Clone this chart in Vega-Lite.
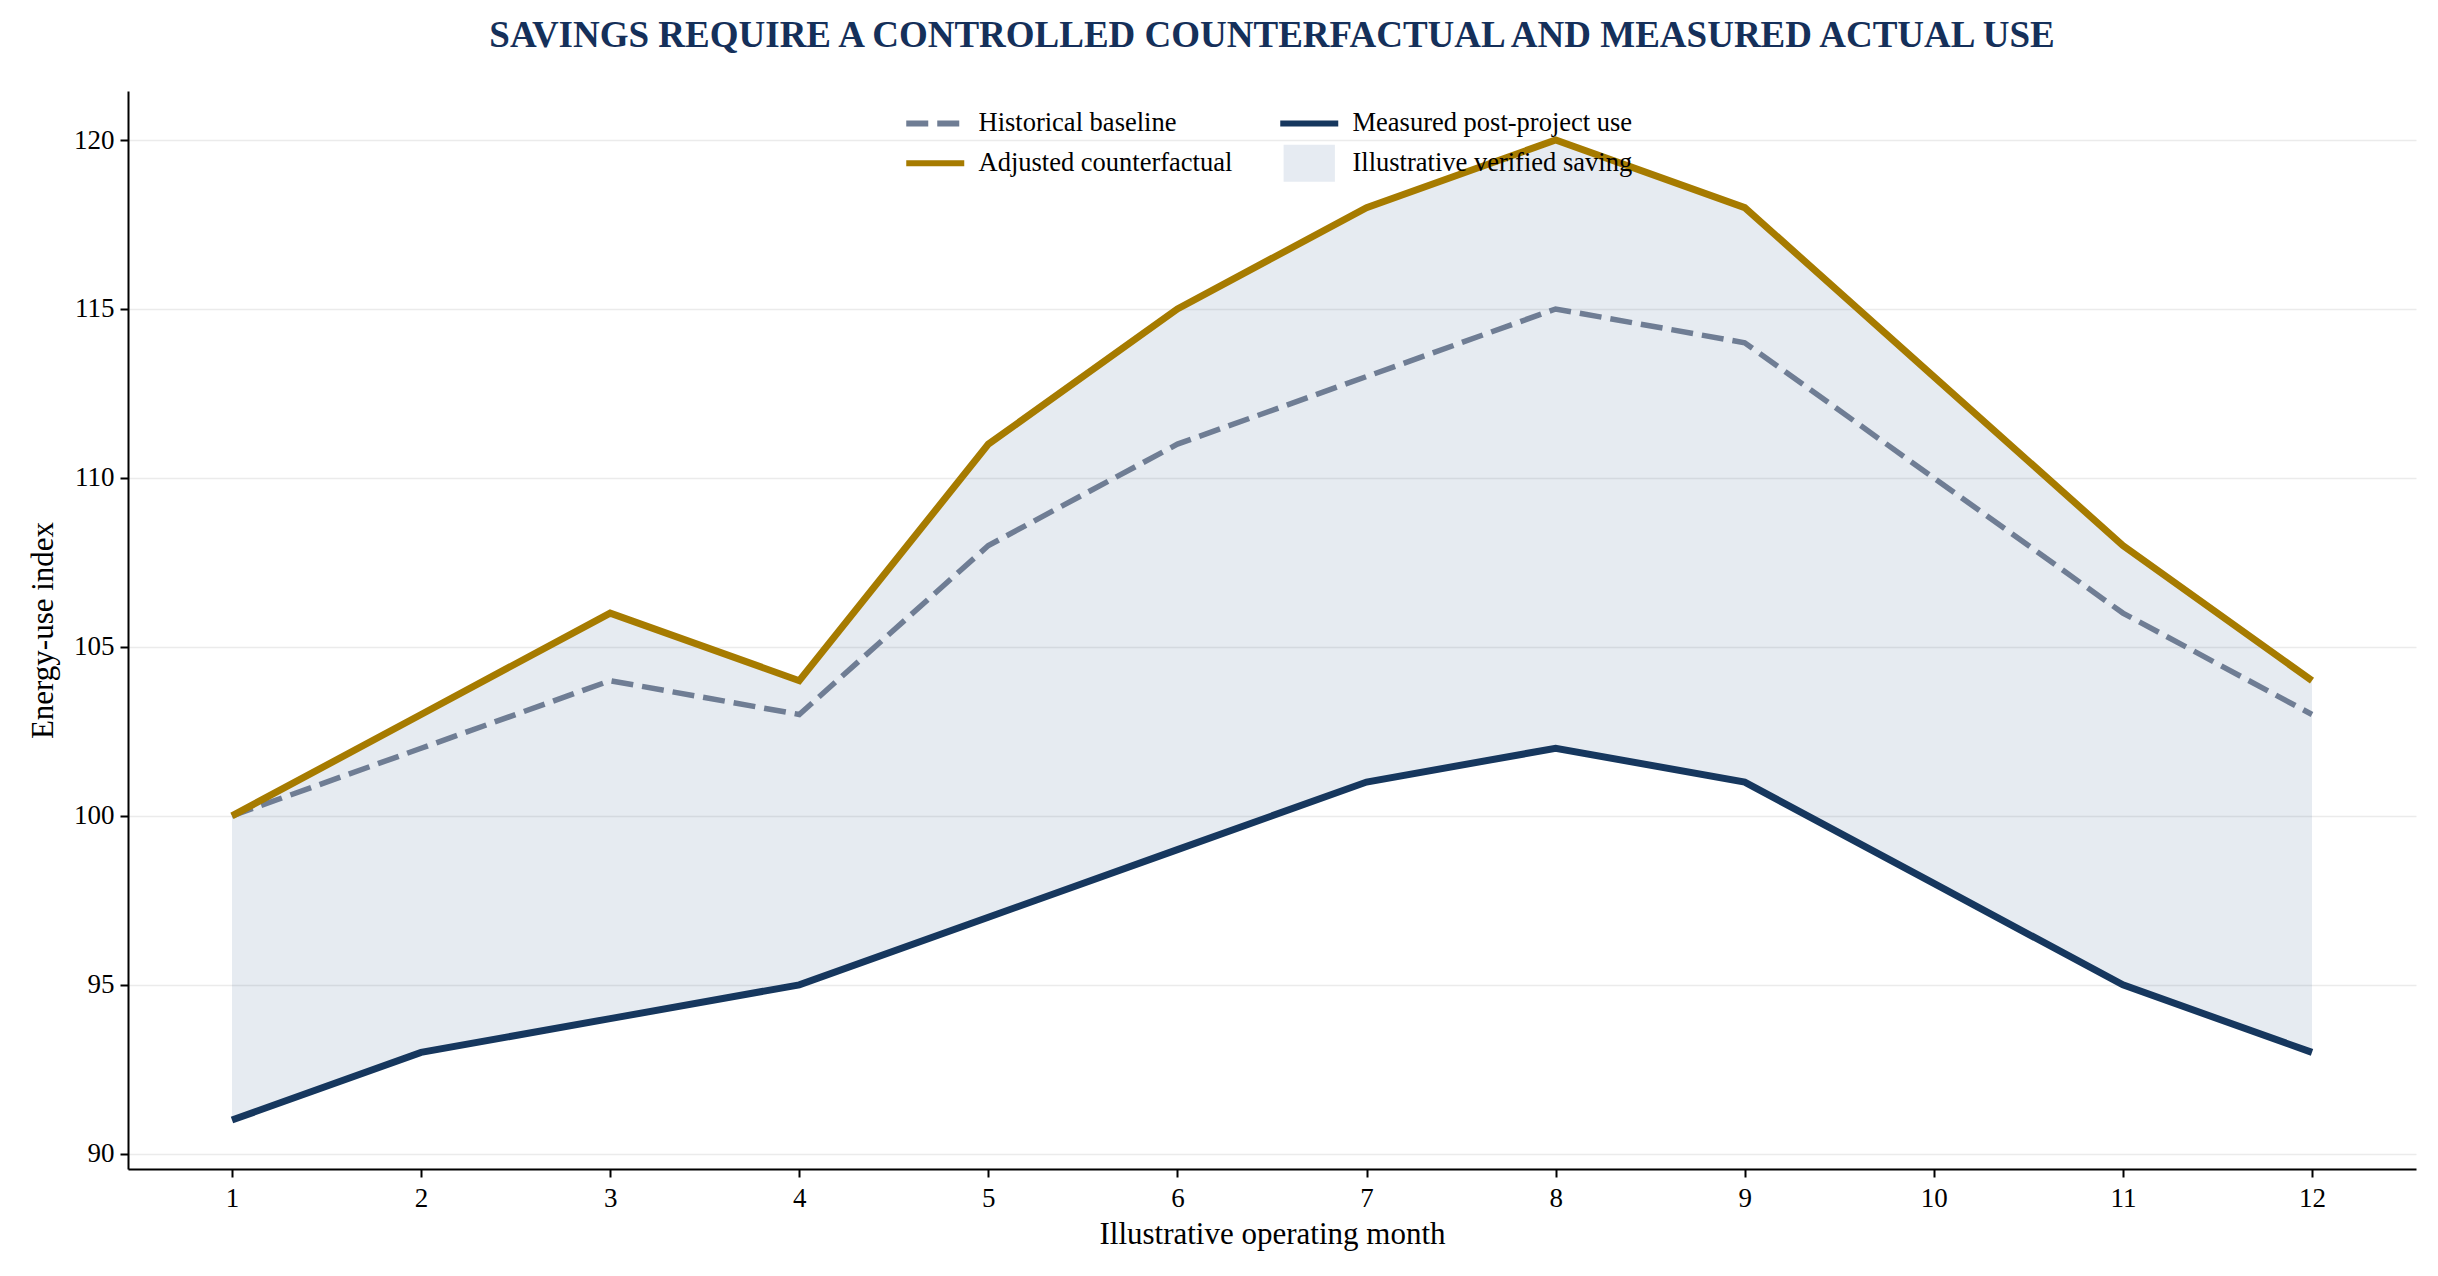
{
  "$schema": "https://vega.github.io/schema/vega-lite/v6.json",
  "width": 2288,
  "height": 1078,
  "autosize": {"type": "none"},
  "padding": {"left": 128, "top": 91, "right": 22, "bottom": 107},
  "background": "white",
  "config": {
    "font": "Liberation Serif",
    "view": {"stroke": null},
    "axis": {
      "domainColor": "black", "domainWidth": 2,
      "tickColor": "black", "tickWidth": 2, "tickSize": 8,
      "labelFont": "Liberation Serif", "labelFontSize": 27, "labelColor": "black",
      "titleFont": "Liberation Serif", "titleFontSize": 31, "titleFontWeight": "normal", "titleColor": "black",
      "gridColor": "#ebebeb", "gridWidth": 1.5
    }
  },
  "title": {
    "text": "SAVINGS REQUIRE A CONTROLLED COUNTERFACTUAL AND MEASURED ACTUAL USE",
    "font": "Liberation Serif", "fontSize": 37, "fontWeight": "bold", "color": "#15305a",
    "anchor": "middle", "offset": 36
  },
  "datasets": {
    "band": [
      {"month": 1, "counterfactual": 100, "measured": 91},
      {"month": 2, "counterfactual": 103, "measured": 93},
      {"month": 3, "counterfactual": 106, "measured": 94},
      {"month": 4, "counterfactual": 104, "measured": 95},
      {"month": 5, "counterfactual": 111, "measured": 97},
      {"month": 6, "counterfactual": 115, "measured": 99},
      {"month": 7, "counterfactual": 118, "measured": 101},
      {"month": 8, "counterfactual": 120, "measured": 102},
      {"month": 9, "counterfactual": 118, "measured": 101},
      {"month": 10, "counterfactual": 113, "measured": 98},
      {"month": 11, "counterfactual": 108, "measured": 95},
      {"month": 12, "counterfactual": 104, "measured": 93}
    ],
    "lines": [
      {"month": 1, "series": "Historical baseline", "value": 100},
      {"month": 2, "series": "Historical baseline", "value": 102},
      {"month": 3, "series": "Historical baseline", "value": 104},
      {"month": 4, "series": "Historical baseline", "value": 103},
      {"month": 5, "series": "Historical baseline", "value": 108},
      {"month": 6, "series": "Historical baseline", "value": 111},
      {"month": 7, "series": "Historical baseline", "value": 113},
      {"month": 8, "series": "Historical baseline", "value": 115},
      {"month": 9, "series": "Historical baseline", "value": 114},
      {"month": 10, "series": "Historical baseline", "value": 110},
      {"month": 11, "series": "Historical baseline", "value": 106},
      {"month": 12, "series": "Historical baseline", "value": 103},
      {"month": 1, "series": "Adjusted counterfactual", "value": 100},
      {"month": 2, "series": "Adjusted counterfactual", "value": 103},
      {"month": 3, "series": "Adjusted counterfactual", "value": 106},
      {"month": 4, "series": "Adjusted counterfactual", "value": 104},
      {"month": 5, "series": "Adjusted counterfactual", "value": 111},
      {"month": 6, "series": "Adjusted counterfactual", "value": 115},
      {"month": 7, "series": "Adjusted counterfactual", "value": 118},
      {"month": 8, "series": "Adjusted counterfactual", "value": 120},
      {"month": 9, "series": "Adjusted counterfactual", "value": 118},
      {"month": 10, "series": "Adjusted counterfactual", "value": 113},
      {"month": 11, "series": "Adjusted counterfactual", "value": 108},
      {"month": 12, "series": "Adjusted counterfactual", "value": 104},
      {"month": 1, "series": "Measured post-project use", "value": 91},
      {"month": 2, "series": "Measured post-project use", "value": 93},
      {"month": 3, "series": "Measured post-project use", "value": 94},
      {"month": 4, "series": "Measured post-project use", "value": 95},
      {"month": 5, "series": "Measured post-project use", "value": 97},
      {"month": 6, "series": "Measured post-project use", "value": 99},
      {"month": 7, "series": "Measured post-project use", "value": 101},
      {"month": 8, "series": "Measured post-project use", "value": 102},
      {"month": 9, "series": "Measured post-project use", "value": 101},
      {"month": 10, "series": "Measured post-project use", "value": 98},
      {"month": 11, "series": "Measured post-project use", "value": 95},
      {"month": 12, "series": "Measured post-project use", "value": 93}
    ]
  },
  "encoding": {
    "x": {
      "field": "month", "type": "quantitative",
      "scale": {"domain": [0.45, 12.55], "nice": false, "zero": false},
      "axis": {"values": [1,2,3,4,5,6,7,8,9,10,11,12], "grid": false, "title": "Illustrative operating month", "labelPadding": 8, "titlePadding": 8}
    }
  },
  "layer": [
    {
      "data": {"name": "band"},
      "mark": {"type": "area", "color": "#2f5b8f", "opacity": 0.12},
      "encoding": {
        "y": {
          "field": "counterfactual", "type": "quantitative",
          "scale": {"domain": [89.55, 121.45], "nice": false, "zero": false},
          "axis": {"values": [90,95,100,105,110,115,120], "grid": true, "title": "Energy-use index", "labelPadding": 6, "titlePadding": 14}
        },
        "y2": {"field": "measured"}
      }
    },
    {
      "data": {"name": "lines"},
      "transform": [{"filter": "datum.series === 'Historical baseline'"}],
      "mark": {"type": "line", "strokeWidth": 5.5, "strokeDash": [22, 9]},
      "encoding": {
        "y": {"field": "value", "type": "quantitative"},
        "color": {"field": "series", "type": "nominal"}
      }
    },
    {
      "data": {"name": "lines"},
      "transform": [{"filter": "datum.series === 'Adjusted counterfactual'"}],
      "mark": {"type": "line", "strokeWidth": 7},
      "encoding": {
        "y": {"field": "value", "type": "quantitative"},
        "color": {"field": "series", "type": "nominal"}
      }
    },
    {
      "data": {"name": "lines"},
      "transform": [{"filter": "datum.series === 'Measured post-project use'"}],
      "mark": {"type": "line", "strokeWidth": 7},
      "encoding": {
        "y": {"field": "value", "type": "quantitative"},
        "color": {
          "field": "series", "type": "nominal",
          "scale": {
            "domain": ["Historical baseline", "Measured post-project use", "Adjusted counterfactual", "Illustrative verified saving"],
            "range": ["#6f7d94", "#16375e", "#a67b00", "#e6ebf2"]
          },
          "legend": {
            "title": null, "orient": "none", "legendX": 794, "legendY": 19,
            "direction": "horizontal", "columns": 2, "columnPadding": 35, "rowPadding": 4,
            "symbolSize": 3364, "labelOffset": 30, "labelLimit": 0,
            "labelFont": "Liberation Serif", "labelFontSize": 26.5, "labelColor": "black",
            "encode": {
              "symbols": {
                "update": {
                  "shape": {"signal": "datum.value === 'Illustrative verified saving' ? 'M-0.85,-0.6H0.85V0.6H-0.85Z' : 'stroke'"},
                  "strokeDash": {"signal": "datum.value === 'Historical baseline' ? [22, 9] : [1, 0]"},
                  "strokeWidth": {"signal": "datum.value === 'Illustrative verified saving' ? 2 : 6"},
                  "fill": {"signal": "datum.value === 'Illustrative verified saving' ? '#e6ebf2' : 'transparent'"},
                  "stroke": {"signal": "datum.value === 'Illustrative verified saving' ? '#dfe5ee' : scale('color', datum.value)"},
                  "opacity": {"value": 1}
                }
              }
            }
          }
        }
      }
    }
  ]
}
